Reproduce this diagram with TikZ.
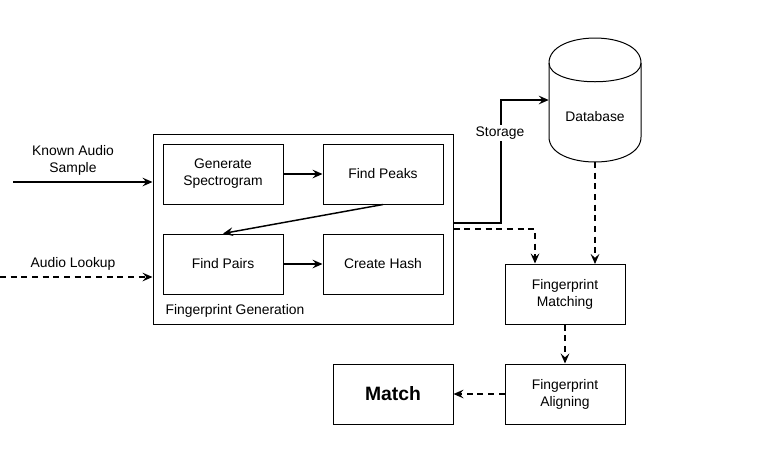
\documentclass[tikz,border=0pt]{standalone}
\usepackage{fontspec}
\setmainfont{Liberation Sans}
\usetikzlibrary{arrows.meta,calc}
\begin{document}
\begin{tikzpicture}[x=0.75pt,y=-0.75pt,
  font=\fontsize{10.4pt}{12.75pt}\selectfont,
  box/.style={draw,line width=0.75pt,minimum width=90pt,minimum height=45pt,inner sep=0pt,align=center},
  conn/.style={line width=1.1pt,-{Stealth[length=7.5pt,width=6.5pt,inset=2.8pt]}},
  dconn/.style={conn,dash pattern=on 4.5pt off 3.5pt},
  lbl/.style={inner sep=1pt,align=center}]
\useasboundingbox (0,0) rectangle (763,451);
% fingerprint generation container
\node[draw,line width=0.75pt,minimum width=225pt,minimum height=142.5pt,inner sep=0pt] (outer) at (303,229) {};
\node[lbl,anchor=west] (fgl) at (164,311) {Fingerprint Generation};
\node[box] (gs) at (223,174) {Generate\\Spectrogram};
\node[box] (fp) at (383,174) {Find Peaks};
\node[box] (pairs) at (223,264) {Find Pairs};
\node[box] (hash) at (383,264) {Create Hash};
% database
\node[minimum width=69pt,minimum height=93pt,inner sep=0pt] (db) at (595,100) {};
\draw[line width=0.75pt] (549,63) .. controls (549,29.67) and (641,29.67) .. (641,63) -- (641,137)
  .. controls (641,170.33) and (549,170.33) .. (549,137) -- cycle;
\draw[line width=0.75pt] (549,63) .. controls (549,88) and (641,88) .. (641,63);
\node[lbl] (dbt) at (595,117) {Database};
% right side
\node[box] (fm) at (565,294) {Fingerprint\\Matching};
\node[box] (fa) at (565,394) {Fingerprint\\Aligning};
\node[box,font=\fontsize{14.5pt}{17pt}\selectfont\bfseries] (match) at (393,394) {Match};
% inputs
\coordinate (ka) at (13,182);
\coordinate (al) at (0,277);
\node[lbl] (kal) at (73,160) {Known Audio\\Sample};
\node[lbl] (all) at (73,264) {Audio Lookup};
\draw[conn] (ka) -- (ka -| outer.west);
\draw[dconn] (al) -- (al -| outer.west);
% internal edges
\draw[conn] (gs) -- (fp);
\draw[conn] (fp.south) -- (pairs.north);
\draw[conn] (pairs) -- (hash);
% storage
\coordinate (sv) at (501,100);
\draw[conn] ([yshift=4.5pt]outer.east) -| (sv) -- (sv -| db.west);
\node[lbl,fill=white] (st) at (500,133) {Storage};
% dashed flows
\draw[dconn] (outer.east) -| ([xshift=-22.5pt]fm.north);
\draw[dconn] (595,162) -- (595,264);
\draw[dconn] (fm) -- (fa);
\draw[dconn] (fa) -- (match);
\end{tikzpicture}
\end{document}
